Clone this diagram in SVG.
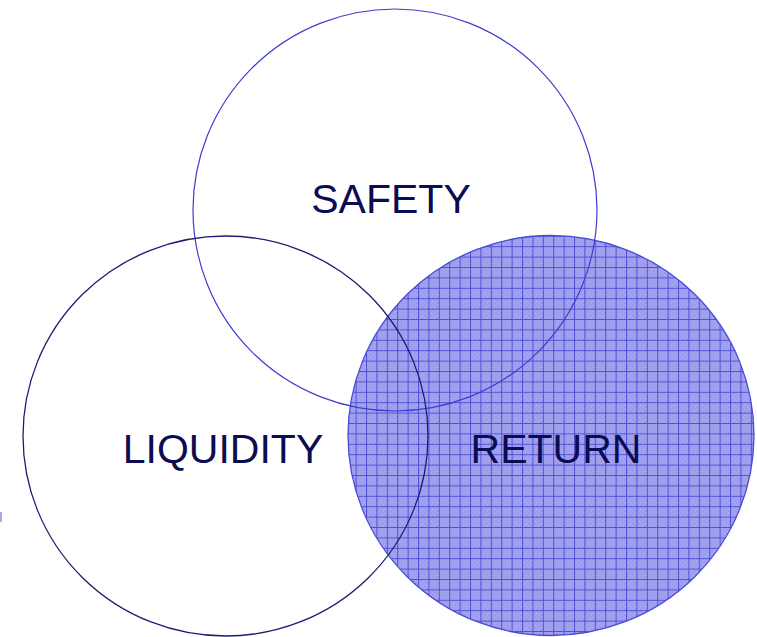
<svg xmlns="http://www.w3.org/2000/svg" width="757" height="637" viewBox="0 0 757 637">
  <defs>
    <pattern id="grid" patternUnits="userSpaceOnUse" x="2" y="7" width="10.4" height="10.4">
      <rect width="10.4" height="10.4" fill="#a6a6f0"/>
      <path d="M0 0h2v2h-2zM4 0h2v2h-2zM8 0h2v2h-2zM2 2h2v2h-2zM6 2h2v2h-2zM0 4h2v2h-2zM4 4h2v2h-2zM8 4h2v2h-2zM2 6h2v2h-2zM6 6h2v2h-2zM0 8h2v2h-2zM4 8h2v2h-2zM8 8h2v2h-2z" fill="#9999eb"/>
      <path d="M0.5 0V10.4M0 0.5H10.4" stroke="#4f4fd6" stroke-width="1" fill="none"/>
    </pattern>
    <style>
      .lbl { font-family: "Liberation Sans", Arial, sans-serif; font-size: 41px; fill: #0c0c52; text-anchor: middle; }
    </style>
  </defs>
  <rect width="757" height="637" fill="#ffffff"/>
  <g id="return">
    <ellipse cx="551" cy="435.5" rx="203" ry="200" fill="url(#grid)" stroke="#4a4ad8" stroke-width="1.3"/>
  </g>
  <g id="safety">
    <ellipse cx="395" cy="210" rx="202" ry="201" fill="none" stroke="#3e3ed0" stroke-width="1.2"/>
  </g>
  <g id="liquidity">
    <ellipse cx="225.5" cy="436" rx="202.5" ry="200" fill="none" stroke="#1c1c72" stroke-width="1.3"/>
  </g>
  <g id="connectors"/>
  <g id="labels">
    <text class="lbl" x="391" y="213">SAFETY</text>
    <text class="lbl" x="223" y="463">LIQUIDITY</text>
    <text class="lbl" x="556" y="463">RETURN</text>
  </g>
  <line x1="1" y1="512" x2="1" y2="522" stroke="#8c8ce0" stroke-width="1.5"/>
</svg>
